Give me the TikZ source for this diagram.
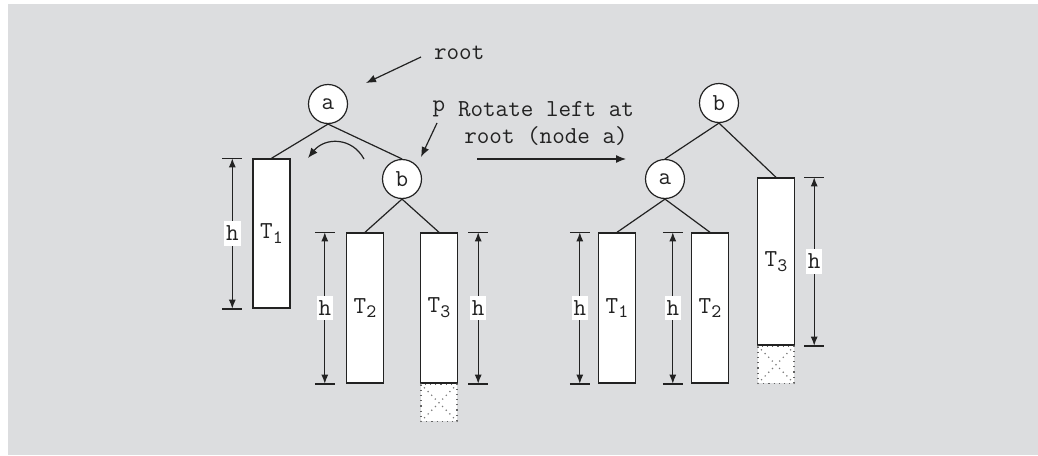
\documentclass[tikz,border=0pt]{standalone}
\usepackage{fontspec}
\usetikzlibrary{arrows.meta,calc}
\definecolor{panel}{HTML}{DCDDDF}
\definecolor{ink}{HTML}{222222}
\newcommand{\sbs}[1]{\raisebox{-0.45ex}{\fontsize{9.5}{10}\selectfont #1}}
\begin{document}
\begin{tikzpicture}[x=0.5pt,y=-0.5pt,
  every node/.style={font=\ttfamily\fontsize{12.2}{13.5}\selectfont, text=ink},
  tnode/.style={circle,draw=ink,fill=white,line width=0.6pt,minimum size=19.5pt,inner sep=0pt},
  tbox/.style={rectangle,draw=ink,fill=white,line width=0.7pt,minimum width=18.5pt,inner sep=0pt},
  ghost/.style={rectangle,draw=ink!70,dotted,fill=white,line width=0.6pt,minimum width=18pt,minimum height=18.5pt,inner sep=0pt},
  edge/.style={draw=ink,line width=0.6pt},
  arr/.style={draw=ink,line width=0.6pt,-{Latex[length=5pt,width=4pt]}},
  dim/.style={draw=ink,line width=0.6pt,{Latex[length=4.5pt,width=3.5pt]}-{Latex[length=4.5pt,width=3.5pt]}},
  tick/.style={draw=ink,line width=0.8pt},
  hlab/.style={fill=white,inner xsep=1pt,inner ysep=2.5pt}]
\useasboundingbox (0,0) rectangle (1038,455);
\fill[panel] (8,4) rectangle (1038,455);

% ---------- left tree ----------
\node[tnode] (a1) at (328,104) {a};
\node[tnode] (b1) at (402,179) {b};
\node[tbox,minimum height=74.5pt] (L1) at (271.5,233.5) {T\sbs{1}};
\node[tbox,minimum height=75pt] (L2) at (365,308) {T\sbs{2}};
\node[tbox,minimum height=75pt] (L3) at (439,308) {T\sbs{3}};
\node[ghost,anchor=north] (G1) at (L3.south) {};
\draw[ink!60,dotted,line width=0.6pt] (G1.north west) -- (G1.south east) (G1.north east) -- (G1.south west);

\draw[edge] (a1.south) -- (L1.north);
\draw[edge] (a1.south) -- (b1.north);
\draw[edge] (b1.south) -- (L2.north);
\draw[edge] (b1.south) -- (L3.north);

% dimensions left
\coordinate (d1t) at ($(L1.north west)+(-20,0)$);
\coordinate (d1b) at ($(L1.south west)+(-20,0)$);
\draw[tick] ($(d1t)+(-10,0)$) -- ($(d1t)+(10,0)$);
\draw[tick] ($(d1b)+(-10,0)$) -- ($(d1b)+(10,0)$);
\draw[dim] (d1t) -- node[hlab] (h1) {h} (d1b);

\coordinate (d2t) at ($(L2.north west)+(-21,0)$);
\coordinate (d2b) at ($(L2.south west)+(-21,0)$);
\draw[tick] ($(d2t)+(-10,0)$) -- ($(d2t)+(10,0)$);
\draw[tick] ($(d2b)+(-10,0)$) -- ($(d2b)+(10,0)$);
\draw[dim] (d2t) -- node[hlab] (h2) {h} (d2b);

\coordinate (d3t) at ($(L3.north east)+(20,0)$);
\coordinate (d3b) at ($(L3.south east)+(20,0)$);
\draw[tick] ($(d3t)+(-10,0)$) -- ($(d3t)+(10,0)$);
\draw[tick] ($(d3b)+(-10,0)$) -- ($(d3b)+(10,0)$);
\draw[dim] (d3t) -- node[hlab] (h3) {h} (d3b);

% annotations
\node[anchor=west] (root) at (427,53) {root};
\coordinate (rootS) at (421,57);
\coordinate (rootE) at (366,83);
\draw[arr] (rootS) -- (rootE);
\node (p) at (439,109) {p};
\coordinate (pS) at (437,123);
\coordinate (pE) at (421,157);
\draw[arr] (pS) -- (pE);
\coordinate (cS) at (364,159);
\coordinate (cE) at (308,158);
\draw[arr] (cS) .. controls (352,137) and (325,137) .. (cE);
\node[align=center] (rot) at (546,123) {Rotate left at\\root (node a)};
\coordinate (bigS) at (477,159);
\coordinate (bigE) at (626,159);
\draw[arr] (bigS) -- (bigE);

% ---------- right tree ----------
\node[tnode] (b2) at (719,103) {b};
\node[tnode] (a2) at (665,179) {a};
\node[tbox,minimum height=75pt] (R1) at (617,308) {T\sbs{1}};
\node[tbox,minimum height=75pt] (R2) at (710,308) {T\sbs{2}};
\node[tbox,minimum height=83.5pt] (R3) at (776,261.5) {T\sbs{3}};
\node[ghost,anchor=north] (G2) at (R3.south) {};
\draw[ink!60,dotted,line width=0.6pt] (G2.north west) -- (G2.south east) (G2.north east) -- (G2.south west);

\draw[edge] (b2.south) -- (a2.north);
\draw[edge] (b2.south) -- (R3.north);
\draw[edge] (a2.south) -- (R1.north);
\draw[edge] (a2.south) -- (R2.north);

\coordinate (e1t) at ($(R1.north west)+(-18,0)$);
\coordinate (e1b) at ($(R1.south west)+(-18,0)$);
\draw[tick] ($(e1t)+(-10,0)$) -- ($(e1t)+(10,0)$);
\draw[tick] ($(e1b)+(-10,0)$) -- ($(e1b)+(10,0)$);
\draw[dim] (e1t) -- node[hlab] (h4) {h} (e1b);

\coordinate (e2t) at ($(R2.north west)+(-18,0)$);
\coordinate (e2b) at ($(R2.south west)+(-18,0)$);
\draw[tick] ($(e2t)+(-10,0)$) -- ($(e2t)+(10,0)$);
\draw[tick] ($(e2b)+(-10,0)$) -- ($(e2b)+(10,0)$);
\draw[dim] (e2t) -- node[hlab] (h5) {h} (e2b);

\coordinate (e3t) at ($(R3.north east)+(19,0)$);
\coordinate (e3b) at ($(R3.south east)+(19,0)$);
\draw[tick] ($(e3t)+(-10,0)$) -- ($(e3t)+(10,0)$);
\draw[tick] ($(e3b)+(-10,0)$) -- ($(e3b)+(10,0)$);
\draw[dim] (e3t) -- node[hlab] (h6) {h} (e3b);
\end{tikzpicture}
\end{document}
